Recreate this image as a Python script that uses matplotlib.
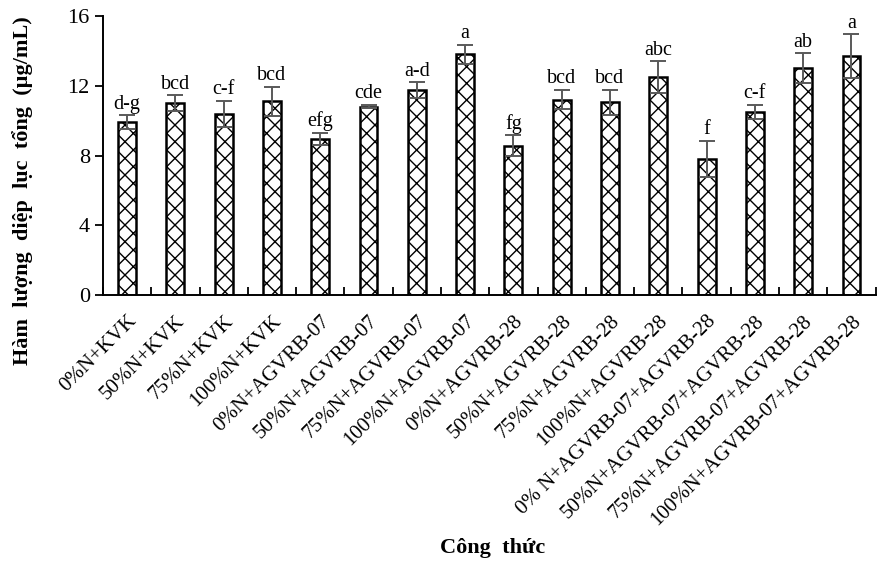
import numpy as np
import matplotlib
matplotlib.use("Agg")
import matplotlib.pyplot as plt

treatments = ["0%N+KVK", "50%N+KVK", "75%N+KVK", "100%N+KVK",
              "0%N+AGVRB-07", "50%N+AGVRB-07", "75%N+AGVRB-07", "100%N+AGVRB-07",
              "0%N+AGVRB-28", "50%N+AGVRB-28", "75%N+AGVRB-28", "100%N+AGVRB-28",
              "0% N+AGVRB-07+AGVRB-28", "50%N+AGVRB-07+AGVRB-28",
              "75%N+AGVRB-07+AGVRB-28", "100%N+AGVRB-07+AGVRB-28"]
chlorophyll = [9.9, 11.0, 10.4, 11.1, 8.95, 10.8, 11.75, 13.8,
               8.55, 11.2, 11.05, 12.5, 7.8, 10.5, 13.0, 13.7]
errors = [0.4, 0.45, 0.75, 0.85, 0.35, 0.1, 0.45, 0.55,
          0.6, 0.55, 0.7, 0.9, 1.05, 0.4, 0.85, 1.25]
letters = ["d-g", "bcd", "c-f", "bcd", "efg", "cde", "a-d", "a",
           "fg", "bcd", "bcd", "abc", "f", "c-f", "ab", "a"]

plt.rcParams['font.family'] = ['Liberation Serif', 'DejaVu Serif']
plt.rcParams['hatch.linewidth'] = 1.0
plt.rcParams['hatch.color'] = '#3a3a3a'

fig = plt.figure(figsize=(8.77, 5.63), dpi=100)
ax = fig.add_axes([0.1174, 0.476, 0.881, 0.4956])

x = np.arange(len(treatments))
ax.bar(x, chlorophyll, width=0.37, color='white', edgecolor='black',
       linewidth=1.8, hatch='xx', zorder=2)
ax.errorbar(x, chlorophyll, yerr=errors, fmt='none', ecolor='#595959',
            elinewidth=1.4, capsize=6, capthick=1.4, zorder=3)

for xi, v, e, lab in zip(x, chlorophyll, errors, letters):
    ax.text(xi, v + e + 0.1, lab, ha='center', va='bottom', fontsize=14.5)

ax.set_xlim(-0.5, len(treatments) - 0.5)
ax.set_ylim(0, 16)
ax.set_yticks([0, 4, 8, 12, 16])
ax.tick_params(axis='y', labelsize=16, length=6, width=1.3, direction='out')

# category labels without ticks, boundary ticks pointing up
ax.set_xticks(x)
ax.set_xticklabels(treatments, rotation=45, ha='right', va='top',
                   rotation_mode='anchor', fontsize=15)
ax.tick_params(axis='x', which='major', length=0, pad=12)
ax.set_xticks(np.arange(-0.5, len(treatments)), minor=True)
ax.tick_params(axis='x', which='minor', direction='in', length=6, width=1.3)

for s in ['top', 'right']:
    ax.spines[s].set_visible(False)
for s in ['left', 'bottom']:
    ax.spines[s].set_linewidth(1.4)

ax.set_ylabel("Hàm  lượng  diệp  lục  tổng  (µg/mL)", fontsize=16,
              fontweight='bold')
ax.yaxis.set_label_coords(-0.091, 0.373)
fig.text(0.562, 0.027, "Công  thức", ha='center', va='center',
         fontsize=16, fontweight='bold')

plt.savefig("out.png", dpi=100)
plt.close()
